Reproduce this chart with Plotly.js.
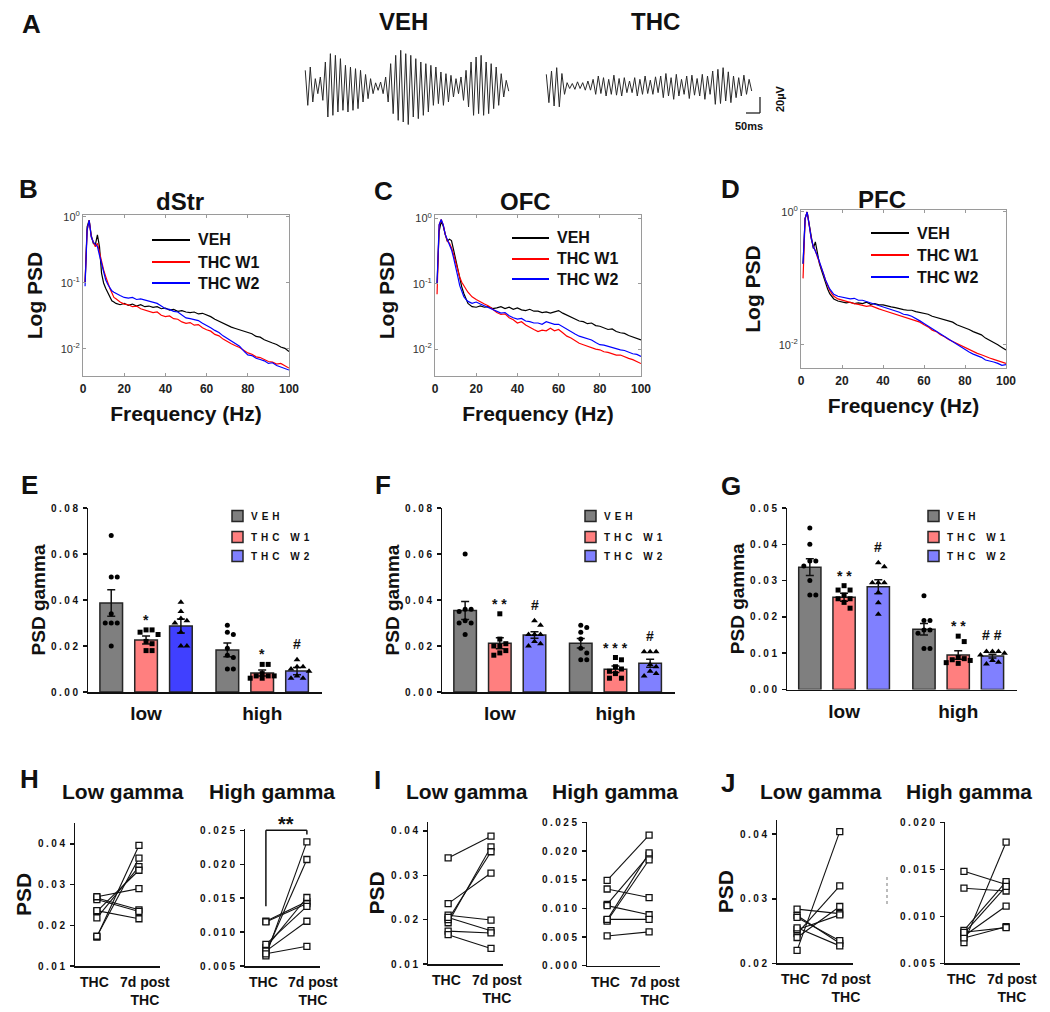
<!DOCTYPE html>
<html><head><meta charset="utf-8">
<script src="https://cdn.plot.ly/plotly-3.0.1.min.js"></script>
<style>
html,body{margin:0;padding:0;background:#fff;}
#chart{width:1050px;height:1012px;}
</style></head><body><div id="chart"></div>
<script>
// ---------------- Panel A: example gamma-filtered LFP traces (µV, successive half-cycle extremes) ----------------
const traceVEH = [20,-22,24,-18, 10,-8,12,-16, 30,-36,40,-34,38,-30,34,-28, 26,-30,24,-28,22,-26,20,-18,15,-14,10,-8, 5,-4,6,-8,12,-18, 28,-32,38,-40,44,-42,40,-45,38,-36,34,-38,30,-34,28,-30, 26,-22,24,-20,18,-22,16,-18,14,-12, 10,-8,12,-16,20,-24, 30,-34,36,-32,38,-34,30,-32,28,-26,24,-22, 16,-12,8,-5];
const traceTHC = [14,-20,18,-24,22,-25,15,-10, 4,-3,3,-4,5,-3,4,-5,6,-5, 8,-10,12,-9,10,-12,8,-10,13,-11,9,-12,10,-8, 6,-8,10,-12,8,-10,12,-9,7,-10,11,-8, 12,-14,15,-12,10,-16,14,-12,8,-10,12,-15,13,-11,9,-12,14,-16,12,-10, 18,-22,20,-21,22,-18,17,-20, 12,-14,10,-12,13,-10,8,-6];

// ---------------- Panels B-D: normalized power spectra ----------------
const freqHz = [1,2,3,4,5,6,7,8,9,10,11,12,13,14,15,16,18,20,22,24,26,28,30,32,34,36,38,40,42,44,46,48,50,52,54,56,58,60,62,64,66,68,70,72,74,76,78,80,82,84,86,88,90,92,94,96,98,100];
const psdNames = ['VEH', 'THC W1', 'THC W2'];
const dStr_VEH = [0.100,0.708,0.891,0.525,0.398,0.380,0.537,0.355,0.141,0.100,0.0832,0.0708,0.0603,0.0537,0.0513,0.0490,0.0468,0.0490,
  0.0457,0.0479,0.0447,0.0468,0.0437,0.0447,0.0427,0.0437,0.0407,0.0417,0.0389,0.0398,0.0372,0.0380,0.0363,0.0355,0.0363,0.0339,0.0347,0.0331,
  0.0309,0.0282,0.0263,0.0240,0.0224,0.0214,0.0204,0.0195,0.0182,0.0174,0.0170,0.0155,0.0151,0.0138,0.0129,0.0123,0.0117,0.0107,0.0102,0.00912];
const dStr_W1 = [0.100,0.631,0.891,0.501,0.417,0.355,0.398,0.282,0.200,0.158,0.126,0.100,0.0832,0.0708,0.0603,0.0575,0.0513,0.0479,
  0.0468,0.0437,0.0447,0.0407,0.0389,0.0380,0.0355,0.0363,0.0324,0.0309,0.0316,0.0288,0.0282,0.0257,0.0245,0.0251,0.0229,0.0234,0.0209,0.0195,
  0.0186,0.0166,0.0158,0.0141,0.0129,0.0120,0.0112,0.0105,0.00955,0.00871,0.00832,0.00759,0.00741,0.00692,0.00646,0.00631,0.00589,0.00603,0.00550,0.00513];
const dStr_W2 = [0.0891,0.631,0.891,0.501,0.417,0.380,0.355,0.263,0.191,0.141,0.112,0.0955,0.0832,0.0759,0.0724,0.0692,0.0646,0.0603,
  0.0589,0.0603,0.0562,0.0575,0.0550,0.0525,0.0501,0.0490,0.0447,0.0407,0.0398,0.0372,0.0363,0.0331,0.0295,0.0288,0.0275,0.0269,0.0245,0.0229,
  0.0209,0.0191,0.0178,0.0158,0.0145,0.0132,0.0120,0.0110,0.00933,0.00813,0.00794,0.00724,0.00692,0.00661,0.00603,0.00617,0.00562,0.00537,0.00513,0.00479];
const OFC_VEH = [0.100,0.631,0.891,0.759,0.562,0.447,0.479,0.457,0.331,0.240,0.158,0.117,0.0891,0.0708,0.0575,0.0501,0.0447,0.0437,
  0.0457,0.0437,0.0447,0.0417,0.0427,0.0447,0.0417,0.0437,0.0407,0.0427,0.0398,0.0389,0.0407,0.0380,0.0380,0.0363,0.0372,0.0355,0.0372,0.0389,
  0.0355,0.0331,0.0309,0.0288,0.0269,0.0263,0.0245,0.0251,0.0229,0.0224,0.0214,0.0200,0.0204,0.0186,0.0178,0.0174,0.0162,0.0155,0.0145,0.0138];
const OFC_W1 = [0.0692,0.794,0.955,0.794,0.562,0.447,0.417,0.355,0.282,0.214,0.158,0.126,0.105,0.0912,0.0832,0.0741,0.0631,0.0575,
  0.0525,0.0490,0.0457,0.0407,0.0363,0.0339,0.0347,0.0302,0.0282,0.0251,0.0263,0.0234,0.0219,0.0200,0.0186,0.0195,0.0191,0.0209,0.0191,0.0200,
  0.0178,0.0158,0.0148,0.0135,0.0123,0.0117,0.0110,0.0105,0.0100,0.00977,0.00912,0.00891,0.00851,0.00813,0.00813,0.00759,0.00724,0.00692,0.00646,0.00603];
const OFC_W2 = [0.100,0.794,0.955,0.794,0.562,0.468,0.398,0.331,0.251,0.191,0.132,0.0933,0.0759,0.0631,0.0575,0.0537,0.0501,0.0525,
  0.0490,0.0457,0.0437,0.0398,0.0372,0.0355,0.0363,0.0324,0.0302,0.0288,0.0295,0.0269,0.0263,0.0251,0.0251,0.0240,0.0263,0.0251,0.0240,0.0240,
  0.0219,0.0200,0.0186,0.0170,0.0158,0.0151,0.0141,0.0138,0.0126,0.0117,0.0115,0.0110,0.0107,0.0102,0.00977,0.00955,0.00891,0.00851,0.00832,0.00776];
const PFC_VEH = [0.166,0.794,1.0,0.631,0.417,0.282,0.355,0.240,0.166,0.132,0.105,0.0832,0.0692,0.0589,0.0525,0.0490,0.0457,0.0447,
  0.0427,0.0437,0.0417,0.0427,0.0417,0.0437,0.0407,0.0417,0.0398,0.0398,0.0380,0.0372,0.0363,0.0347,0.0339,0.0331,0.0331,0.0316,0.0309,0.0295,
  0.0288,0.0269,0.0257,0.0245,0.0234,0.0224,0.0219,0.0200,0.0191,0.0178,0.0170,0.0158,0.0151,0.0141,0.0126,0.0117,0.0110,0.0100,0.00912,0.00832];
const PFC_W1 = [0.100,0.794,1.0,0.631,0.398,0.302,0.263,0.209,0.174,0.148,0.117,0.0933,0.0759,0.0661,0.0589,0.0537,0.0490,0.0468,
  0.0447,0.0437,0.0417,0.0407,0.0398,0.0380,0.0389,0.0363,0.0347,0.0331,0.0316,0.0309,0.0288,0.0282,0.0263,0.0257,0.0240,0.0234,0.0219,0.0200,
  0.0186,0.0166,0.0158,0.0141,0.0132,0.0120,0.0112,0.0105,0.00955,0.00891,0.00832,0.00794,0.00741,0.00708,0.00661,0.00631,0.00603,0.00575,0.00537,0.00525];
const PFC_W2 = [0.166,0.794,1.0,0.631,0.398,0.302,0.263,0.219,0.178,0.148,0.117,0.0933,0.0794,0.0692,0.0631,0.0575,0.0537,0.0525,
  0.0501,0.0490,0.0501,0.0468,0.0468,0.0447,0.0437,0.0417,0.0398,0.0372,0.0363,0.0339,0.0331,0.0309,0.0288,0.0282,0.0269,0.0251,0.0229,0.0209,
  0.0191,0.0174,0.0158,0.0145,0.0132,0.0120,0.0110,0.0100,0.00912,0.00832,0.00776,0.00724,0.00692,0.00646,0.00589,0.00575,0.00550,0.00525,0.00490,0.00501];

// ---------------- Panels E-G: gamma PSD bars (mean, SEM, individual animals) ----------------
const bandCats = ['low', 'high'];
const groupNames = ['VEH', 'THC W1', 'THC W2'];
const E_mean_VEH = [0.0387, 0.0183], E_sem_VEH = [0.0058, 0.0030];
const E_mean_W1  = [0.0226, 0.0083], E_sem_W1  = [0.0017, 0.0013];
const E_mean_W2  = [0.0287, 0.0091], E_sem_W2  = [0.0030, 0.0016];
const E_pts_VEH_low  = [0.068, 0.050, 0.050, 0.034, 0.030, 0.030, 0.030, 0.020];
const E_pts_VEH_high = [0.029, 0.026, 0.025, 0.019, 0.016, 0.015, 0.010, 0.010];
const E_pts_W1_low   = [0.027, 0.027, 0.026, 0.025, 0.022, 0.021, 0.018, 0.018];
const E_pts_W1_high  = [0.012, 0.012, 0.008, 0.007, 0.007, 0.006, 0.007, 0.006];
const E_pts_W2_low   = [0.039, 0.035, 0.032, 0.031, 0.030, 0.026, 0.020, 0.020];
const E_pts_W2_high  = [0.014, 0.011, 0.011, 0.010, 0.009, 0.007, 0.006, 0.006];
const E_sig_W1 = ['*', '*'], E_sig_W2 = ['', '#'];

const F_mean_VEH = [0.0354, 0.0212], F_sem_VEH = [0.0039, 0.0021];
const F_mean_W1  = [0.0212, 0.0099], F_sem_W1  = [0.0024, 0.0014];
const F_mean_W2  = [0.0248, 0.0125], F_sem_W2  = [0.0014, 0.0017];
const F_pts_VEH_low  = [0.060, 0.036, 0.036, 0.035, 0.031, 0.030, 0.025, 0.030];
const F_pts_VEH_high = [0.029, 0.028, 0.026, 0.019, 0.017, 0.014, 0.014, 0.023];
const F_pts_W1_low   = [0.034, 0.023, 0.021, 0.020, 0.018, 0.017, 0.016, 0.020];
const F_pts_W1_high  = [0.015, 0.014, 0.011, 0.010, 0.009, 0.008, 0.006, 0.006];
const F_pts_W2_low   = [0.031, 0.029, 0.025, 0.025, 0.025, 0.022, 0.020, 0.021];
const F_pts_W2_high  = [0.0175, 0.0175, 0.0175, 0.012, 0.011, 0.009, 0.007, 0.008];
const F_sig_W1 = ['* *', '* * *'], F_sig_W2 = ['#', '#'];

const G_mean_VEH = [0.0337, 0.0166], G_sem_VEH = [0.0023, 0.0016];
const G_mean_W1  = [0.0254, 0.0095], G_sem_W1  = [0.0011, 0.0012];
const G_mean_W2  = [0.0283, 0.0092], G_sem_W2  = [0.0019, 0.0005];
const G_pts_VEH_low  = [0.0445, 0.040, 0.0354, 0.0354, 0.034, 0.030, 0.026, 0.026];
const G_pts_VEH_high = [0.0258, 0.019, 0.019, 0.0164, 0.0164, 0.0155, 0.0113, 0.0113];
const G_pts_W1_low   = [0.0286, 0.0274, 0.0274, 0.026, 0.025, 0.025, 0.024, 0.0224];
const G_pts_W1_high  = [0.0147, 0.0132, 0.0088, 0.0085, 0.0082, 0.0080, 0.0072, 0.0074];
const G_pts_W2_low   = [0.0349, 0.0338, 0.0294, 0.0294, 0.0294, 0.0267, 0.0239, 0.0207];
const G_pts_W2_high  = [0.0105, 0.0105, 0.0105, 0.010, 0.0095, 0.008, 0.0075, 0.007];
const G_sig_W1 = ['* *', '* *'], G_sig_W2 = ['#', '# #'];

// ---------------- Panels H-J: paired THC vs 7 d post THC ----------------
const pairCats = ['THC', '7d post<br>THC'];
const H_low_THC   = [0.0171, 0.0173, 0.0218, 0.0234, 0.0267, 0.0263, 0.0236, 0.0270];
const H_low_post  = [0.0396, 0.0365, 0.0344, 0.0335, 0.0238, 0.0234, 0.0216, 0.0290];
const H_high_THC  = [0.0065, 0.0070, 0.0116, 0.0115, 0.0077, 0.0082, 0.0072, 0.0068];
const H_high_post = [0.0233, 0.0207, 0.0145, 0.0142, 0.0151, 0.0138, 0.0116, 0.0079];
const I_low_THC   = [0.0339, 0.0236, 0.0193, 0.0200, 0.0210, 0.0205, 0.0174, 0.0166];
const I_low_post  = [0.0388, 0.0305, 0.0364, 0.0353, 0.0199, 0.0175, 0.0170, 0.0135];
const I_high_THC  = [0.0149, 0.0134, 0.0107, 0.0105, 0.0080, 0.0078, 0.0081, 0.0052];
const I_high_post = [0.0228, 0.0119, 0.0193, 0.0089, 0.0197, 0.0185, 0.0081, 0.0059];
const J_low_THC   = [0.0220, 0.0284, 0.0246, 0.0240, 0.0252, 0.0274, 0.0271, 0.0255];
const J_low_post  = [0.0404, 0.0277, 0.0320, 0.0288, 0.0275, 0.0231, 0.0235, 0.0227];
const J_high_THC  = [0.0072, 0.0148, 0.0130, 0.0085, 0.0082, 0.0079, 0.0077, 0.0083];
const J_high_post = [0.0179, 0.0134, 0.0127, 0.0137, 0.0132, 0.0111, 0.0089, 0.0088];

// ================= drawing =================
const W = 1050, H = 1012;
const FONT = '"Liberation Sans", Arial, Helvetica, sans-serif';
const INK = '#111';
const xd = (a, b) => [a / W, b / W];
const yd = (t, b) => [1 - b / H, 1 - t / H];
const px = x => x / W, py = y => 1 - y / H;

const data = [];
const layout = {
  width: W, height: H,
  margin: {l: 0, r: 0, t: 0, b: 0, pad: 0, autoexpand: false},
  paper_bgcolor: '#ffffff', plot_bgcolor: 'rgba(0,0,0,0)',
  font: {family: FONT, color: INK},
  showlegend: false, hovermode: false,
  barmode: 'group', bargap: 0.1, bargroupgap: 0.35,
  annotations: [], shapes: []
};
const ann = layout.annotations, shp = layout.shapes;
function label(t, x, y, size, extra) {
  ann.push(Object.assign({text: t, x: px(x), y: py(y), xref: 'paper', yref: 'paper', showarrow: false,
    xanchor: 'center', yanchor: 'middle', font: {family: FONT, size: size, weight: 'bold', color: INK}}, extra || {}));
}

// ---- Panel A ----
const hid = (domain, range, anchor) => ({domain, range, anchor, visible: false, fixedrange: true});
layout.xaxis = hid(xd(304, 510), [-0.5, traceVEH.length - 0.5], 'y');
layout.yaxis = hid(yd(37, 137), [-60, 60], 'x');
layout.xaxis2 = hid(xd(545, 753), [-0.5, traceTHC.length - 0.5], 'y2');
layout.yaxis2 = hid(yd(36, 136), [-60, 60], 'x2');
data.push({type: 'scatter', mode: 'lines', y: traceVEH, xaxis: 'x', yaxis: 'y', line: {color: '#2a2a2a', width: 1}, hoverinfo: 'skip'});
data.push({type: 'scatter', mode: 'lines', y: traceTHC, xaxis: 'x2', yaxis: 'y2', line: {color: '#2a2a2a', width: 1}, hoverinfo: 'skip'});
shp.push({type: 'line', xref: 'paper', yref: 'paper', x0: px(760), x1: px(760), y0: py(97), y1: py(113), line: {color: '#222', width: 1.3}});
shp.push({type: 'line', xref: 'paper', yref: 'paper', x0: px(746), x1: px(760), y0: py(113), y1: py(113), line: {color: '#222', width: 1.3}});
label('50ms', 749, 126, 11);
label('20µV', 780, 99, 11, {textangle: -90});
label('VEH', 403, 22, 24);
label('THC', 655, 22, 24);

// ---- Panels B-D ----
const psdColors = ['#000000', '#ff0000', '#0000ff'];
function psdPanel(n, xDom, yDom, yRange, tickVals, tickText, leg, series) {
  const frame = {showline: true, mirror: 'ticks', linecolor: '#9a9a9a', linewidth: 1, ticks: 'inside', ticklen: 3, tickcolor: '#9a9a9a', showgrid: false, zeroline: false, fixedrange: true};
  layout['xaxis' + n] = Object.assign({domain: xDom, range: [0, 100], anchor: 'y' + n, tick0: 0, dtick: 20,
    tickfont: {size: 12, weight: 'bold', color: '#222'}, ticklabelstandoff: 2,
    title: {text: 'Frequency (Hz)', font: {size: 21, weight: 'bold', color: INK}, standoff: 10}}, frame);
  layout['yaxis' + n] = Object.assign({domain: yDom, type: 'log', range: yRange, anchor: 'x' + n, tickvals: tickVals, ticktext: tickText,
    tickfont: {size: 11, color: '#333'},
    title: {text: 'Log PSD', font: {size: 21, weight: 'bold', color: INK}, standoff: 12}}, frame);
  series.forEach((s, i) => data.push({type: 'scatter', mode: 'lines', x: freqHz, y: s, name: psdNames[i],
    line: {color: psdColors[i], width: 1.2}, xaxis: 'x' + n, yaxis: 'y' + n, hoverinfo: 'skip'}));
  // key: short line samples + names
  leg.ys.forEach((y, i) => {
    shp.push({type: 'line', xref: 'paper', yref: 'paper', x0: px(leg.x0), x1: px(leg.x1), y0: py(y), y1: py(y), line: {color: psdColors[i], width: 2}});
    label(psdNames[i], leg.tx, y, 16, {xanchor: 'left', align: 'left'});
  });
}
const logTicks = [1, 0.1, 0.01], logText = ['10<sup>0</sup>', '10<sup>-1</sup>', '10<sup>-2</sup>'];
psdPanel(3, xd(83, 289), yd(215, 376), [-2.41, 0.03], logTicks, logText, {x0: 152, x1: 190, tx: 196, ys: [240, 262, 283]}, [dStr_VEH, dStr_W1, dStr_W2]);
psdPanel(4, xd(435, 641), yd(215, 376), [-2.41, 0.05], logTicks, logText, {x0: 512, x1: 549, tx: 555, ys: [238, 259, 279]}, [OFC_VEH, OFC_W1, OFC_W2]);
psdPanel(5, xd(801, 1006), yd(210, 368), [-2.35, 0.03], [1, 0.01], ['10<sup>0</sup>', '10<sup>-2</sup>'], {x0: 871, x1: 909, tx: 915, ys: [233, 255, 277]}, [PFC_VEH, PFC_W1, PFC_W2]);
label('dStr', 180, 202, 24);
label('OFC', 525, 202, 24);
label('PFC', 882, 200, 24);

// ---- Panels E-G ----
// simple beeswarm: horizontal pixel offsets so that markers of one group do not overlap
function swarm(vals, yPx, d, maxSteps) {
  const order = vals.map((v, i) => i).sort((a, b) => vals[b] - vals[a]);
  const placed = [], off = vals.map(() => 0);
  order.forEach(i => {
    const y = vals[i] * yPx;
    let best = 0, bestScore = Infinity;
    for (let k = 0; k <= 2 * maxSteps; k++) {
      const cand = k === 0 ? 0 : (k % 2 ? 1 : -1) * Math.ceil(k / 2) * d;
      let overlap = 0;
      placed.forEach(p => { const dist = Math.hypot(p.x - cand, p.y - y); if (dist < d) overlap += d - dist; });
      if (overlap === 0) { best = cand; bestScore = 0; break; }
      if (overlap < bestScore) { bestScore = overlap; best = cand; }
    }
    placed.push({x: best, y: y});
    off[i] = best;
  });
  return off;
}
function barPanel(n, x0, x1, yTop, yBot, yMax, dtick, key, groups) {
  const xRange = [-0.5, 1.515];
  const xPx = (x1 - x0) / (xRange[1] - xRange[0]), yPx = (yBot - yTop) / yMax;
  const slot = (1 - layout.bargap) / 3;
  layout['xaxis' + n] = {domain: xd(x0, x1), type: 'category', categoryorder: 'array', categoryarray: bandCats, range: xRange, anchor: 'y' + n,
    showline: true, linecolor: INK, linewidth: 1.5, ticks: '', showgrid: false, zeroline: false,
    tickfont: {size: 19, weight: 'bold', color: INK}, ticklabelstandoff: 4, fixedrange: true};
  layout['xaxis' + (n + 9)] = {overlaying: 'x' + n, range: xRange, anchor: 'y' + n, visible: false, fixedrange: true};
  layout['yaxis' + n] = {domain: yd(yTop, yBot), range: [0, yMax], anchor: 'x' + n, tick0: 0, dtick: dtick, tickformat: '.2f',
    showline: true, linecolor: INK, linewidth: 1.5, ticks: 'outside', ticklen: 4, tickwidth: 1.5, tickcolor: INK,
    showgrid: false, zeroline: false, tickfont: {size: 10, weight: 'bold', color: INK}, fixedrange: true,
    title: {text: 'PSD gamma', font: {size: 19, weight: 'bold', color: INK}, standoff: 10}};
  groups.forEach((g, i) => {
    data.push({type: 'bar', x: bandCats, y: g.mean, name: groupNames[i],
      marker: {color: g.color, line: {color: '#262626', width: 1.5}},
      error_y: {type: 'data', array: g.sem, color: INK, thickness: 1.5, width: 4},
      xaxis: 'x' + n, yaxis: 'y' + n, hoverinfo: 'skip'});
    // key entry: swatch + name
    const ky = key.ys[i];
    shp.push({type: 'rect', xref: 'paper', yref: 'paper', x0: px(key.x), x1: px(key.x + 11), y0: py(ky + 5.5), y1: py(ky - 5.5),
      fillcolor: g.keyColor || g.color, line: {color: '#262626', width: 1.5}});
    label(groupNames[i], key.x + 17, ky, 10, {xanchor: 'left', align: 'left'});
  });
  groups.forEach((g, i) => {
    const xs = [], ys = [];
    g.pts.forEach((arr, c) => {
      const off = swarm(arr, yPx, 6, 2);
      arr.forEach((v, k) => { xs.push(c + (i - 1) * slot + off[k] / xPx); ys.push(v); });
    });
    data.push({type: 'scatter', mode: 'markers', x: xs, y: ys, cliponaxis: false,
      marker: {color: '#000', size: g.symbol === 'triangle-up' ? 6 : 5, symbol: g.symbol, line: {width: 0}},
      xaxis: 'x' + (n + 9), yaxis: 'y' + n, hoverinfo: 'skip'});
    (g.sig || []).forEach((lab, c) => {
      if (!lab) return;
      ann.push({xref: 'x' + n, yref: 'y' + n, x: c + (i - 1) * slot, y: Math.max.apply(null, g.pts[c]), text: lab, showarrow: false,
        xanchor: 'center', yanchor: 'middle', yshift: lab.indexOf('#') >= 0 ? 16 : 10,
        font: {family: FONT, size: 14, weight: 'bold', color: INK}});
    });
  });
}
const cVEH = '#7f7f7f', cW1 = '#ff7f7f', cW2 = '#8080ff';
const keyYs = [516, 537, 556];
barPanel(6, 88, 322, 508, 692, 0.08, 0.02, {x: 232, ys: keyYs}, [
  {mean: E_mean_VEH, sem: E_sem_VEH, pts: [E_pts_VEH_low, E_pts_VEH_high], color: cVEH, symbol: 'circle'},
  {mean: E_mean_W1, sem: E_sem_W1, pts: [E_pts_W1_low, E_pts_W1_high], color: cW1, symbol: 'square', sig: E_sig_W1},
  {mean: E_mean_W2, sem: E_sem_W2, pts: [E_pts_W2_low, E_pts_W2_high], color: ['#4040ff', cW2], keyColor: cW2, symbol: 'triangle-up', sig: E_sig_W2}]);
barPanel(7, 442, 675, 508, 692, 0.08, 0.02, {x: 585, ys: keyYs}, [
  {mean: F_mean_VEH, sem: F_sem_VEH, pts: [F_pts_VEH_low, F_pts_VEH_high], color: cVEH, symbol: 'circle'},
  {mean: F_mean_W1, sem: F_sem_W1, pts: [F_pts_W1_low, F_pts_W1_high], color: cW1, symbol: 'square', sig: F_sig_W1},
  {mean: F_mean_W2, sem: F_sem_W2, pts: [F_pts_W2_low, F_pts_W2_high], color: cW2, symbol: 'triangle-up', sig: F_sig_W2}]);
barPanel(8, 787, 1017, 508, 689.5, 0.05, 0.01, {x: 928, ys: keyYs}, [
  {mean: G_mean_VEH, sem: G_sem_VEH, pts: [G_pts_VEH_low, G_pts_VEH_high], color: cVEH, symbol: 'circle'},
  {mean: G_mean_W1, sem: G_sem_W1, pts: [G_pts_W1_low, G_pts_W1_high], color: cW1, symbol: 'square', sig: G_sig_W1},
  {mean: G_mean_W2, sem: G_sem_W2, pts: [G_pts_W2_low, G_pts_W2_high], color: cW2, symbol: 'triangle-up', sig: G_sig_W2}]);

// ---- Panels H-J ----
function pairPanel(n, x0, x1, yTop, yBot, yRange, dtick, fmt, xRange, thc, post, withTitle) {
  layout['xaxis' + n] = {domain: xd(x0, x1), type: 'category', categoryorder: 'array', categoryarray: pairCats, range: xRange, anchor: 'y' + n,
    showline: true, linecolor: INK, linewidth: 1.5, ticks: '', showgrid: false, zeroline: false, showticklabels: false, fixedrange: true};
  const ya = {domain: yd(yTop, yBot), range: yRange, anchor: 'x' + n, tick0: 0, dtick: dtick, tickformat: fmt,
    showline: true, linecolor: INK, linewidth: 1.5, ticks: 'outside', ticklen: 4, tickwidth: 1.5, tickcolor: INK,
    showgrid: false, zeroline: false, tickfont: {size: 10, weight: 'bold', color: INK}, fixedrange: true};
  if (withTitle) ya.title = {text: 'PSD', font: {size: 21, weight: 'bold', color: INK}, standoff: 10};
  layout['yaxis' + n] = ya;
  const xs = [], ys = [];
  thc.forEach((v, i) => { xs.push(pairCats[0], pairCats[1], null); ys.push(v, post[i], null); });
  data.push({type: 'scatter', mode: 'lines+markers', x: xs, y: ys, connectgaps: false, cliponaxis: false,
    line: {color: INK, width: 1.1}, marker: {symbol: 'square', size: 6, color: '#fff', line: {color: INK, width: 1.3}},
    xaxis: 'x' + n, yaxis: 'y' + n, hoverinfo: 'skip'});
  // category names under the axis (the second one sits a little right of its column, as in the original)
  pairCats.forEach((c, k) => ann.push({xref: 'x' + n, yref: 'paper', x: k, y: py(yBot + 14), text: c, showarrow: false,
    xanchor: 'center', yanchor: 'top', yshift: 8, xshift: k === 0 ? -2 : 6,
    font: {family: FONT, size: 14, weight: 'bold', color: INK}}));
}
pairPanel(9,  75, 160,  823, 966,   [0.01, 0.0451],   0.01,  '.2f', [-0.52, 1.5],  H_low_THC,  H_low_post,  true);
pairPanel(10, 245, 320, 829, 966,   [0.005, 0.0252],  0.005, '.3f', [-0.51, 1.32], H_high_THC, H_high_post, false);
pairPanel(11, 428, 503, 822, 964,   [0.01, 0.042],    0.01,  '.2f', [-0.47, 1.28], I_low_THC,  I_low_post,  true);
pairPanel(12, 587, 660, 822, 965.7, [0, 0.0251],      0.005, '.3f', [-0.48, 1.26], I_high_THC, I_high_post, false);
pairPanel(13, 777, 853, 820, 963.3, [0.02, 0.0422],   0.01,  '.2f', [-0.47, 1.31], J_low_THC,  J_low_post,  true);
pairPanel(14, 945, 1020, 822, 963.3,[0.005, 0.02005], 0.005, '.3f', [-0.45, 1.33], J_high_THC, J_high_post, false);
// significance bracket (H, high gamma)
[[0, 0, 0.0138, 0.025], [0, 1, 0.025, 0.025], [1, 1, 0.025, 0.0244]].forEach(s =>
  shp.push({type: 'line', xref: 'x10', yref: 'y10', x0: s[0], x1: s[1], y0: s[2], y1: s[3], line: {color: INK, width: 1.5}}));
ann.push({xref: 'x10', yref: 'y10', x: 0.5, y: 0.025, text: '**', showarrow: false, xanchor: 'center', yanchor: 'bottom', yshift: -7,
  font: {family: FONT, size: 20, weight: 'bold', color: INK}});
shp.push({type: 'line', xref: 'paper', yref: 'paper', x0: px(887), x1: px(887), y0: py(877), y1: py(905), line: {color: '#bbbbbb', width: 2, dash: 'dot'}});
[['Low gamma', 123], ['High gamma', 272], ['Low gamma', 467], ['High gamma', 615], ['Low gamma', 821], ['High gamma', 969]]
  .forEach(t => label(t[0], t[1], 791, 21));

// ---- panel letters ----
[['A', 31, 24], ['B', 28, 189], ['C', 383, 191], ['D', 730, 189], ['E', 29, 485], ['F', 383, 485], ['G', 731, 486],
 ['H', 29, 779], ['I', 377, 780], ['J', 728, 783]].forEach(l => label(l[0], l[1], l[2], 26));

Plotly.newPlot('chart', data, layout, {staticPlot: true, displayModeBar: false}).then(gd => {
  // letter-spaced typography of the original (tick numbers and bar keys)
  gd.querySelectorAll('.yaxislayer-above text').forEach(t => {
    if (/^0\.\d+$/.test(t.textContent)) t.style.letterSpacing = '2.5px';
  });
  gd.querySelectorAll('text.annotation-text').forEach(t => {
    if (groupNames.indexOf(t.textContent) >= 0 && parseFloat(t.style.fontSize) < 12) t.style.letterSpacing = '4px';
  });
  // drop empty placeholder title nodes of untitled axes
  gd.querySelectorAll('text').forEach(t => { if (!t.textContent.trim()) t.remove(); });
});
</script></body></html>
